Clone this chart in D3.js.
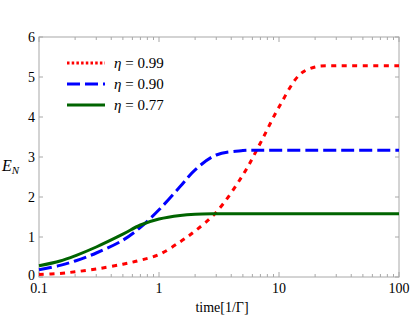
<!DOCTYPE html>
<html>
<head>
<meta charset="utf-8">
<script src="https://cdn.jsdelivr.net/npm/d3@7"></script>
<style>
  body { margin: 0; background: #fff; }
  svg text { font-family: "Liberation Serif", "Times New Roman", serif !important; }
</style>
</head>
<body>
<script>
// Data (time in units of 1/Gamma)
const times = [0.1, 0.15, 0.2, 0.3, 0.5, 0.7, 1, 1.5, 2, 3, 5, 7, 10, 15, 20, 30, 50, 100];
const eta099 = [0.06, 0.09, 0.13, 0.2, 0.32, 0.42, 0.56, 0.88, 1.15, 1.62, 2.55, 3.35, 4.25, 5.07, 5.25, 5.28, 5.28, 5.28];
const eta090 = [0.18, 0.29, 0.4, 0.6, 0.92, 1.24, 1.68, 2.26, 2.68, 3.05, 3.16, 3.17, 3.17, 3.17, 3.17, 3.17, 3.17, 3.17];
const eta077 = [0.28, 0.4, 0.53, 0.75, 1.07, 1.3, 1.45, 1.54, 1.57, 1.58, 1.58, 1.58, 1.58, 1.58, 1.58, 1.58, 1.58, 1.58];
const seriesNames = ["0.99", "0.90", "0.77"];
const xTicks = [0.1, 1, 10, 100];
const yTicks = [0, 1, 2, 3, 4, 5, 6];

const series = [
  { name: seriesNames[0], values: eta099, color: "#ff0000", dash: "5,5.5" },
  { name: seriesNames[1], values: eta090, color: "#0000ff", dash: "13,5" },
  { name: seriesNames[2], values: eta077, color: "#006400", dash: null }
];

const W = 415, H = 327;
const margin = { top: 37, right: 16, bottom: 50, left: 39 };
const width = W - margin.left - margin.right,
    height = H - margin.top - margin.bottom;
const serif = "Liberation Serif";

const svg = d3.select("body")
  .append("svg")
    .attr("width", W)
    .attr("height", H)
  .append("g")
    .attr("transform", `translate(${margin.left},${margin.top})`);

const x = d3.scaleLog().domain([0.1, 100]).range([0, width]);
const y = d3.scaleLinear().domain([0, 6]).range([height, 0]);

// minor ticks for log axis
const minor = [];
[0.1, 1, 10].forEach(d => { for (let k = 2; k <= 9; k++) minor.push(d * k); });

const frame = "#a8a8a8";

// frame
svg.append("rect")
  .attr("width", width).attr("height", height)
  .attr("fill", "none").attr("stroke", frame).attr("stroke-width", 1);

// bottom axis ticks (inward)
svg.append("g").selectAll("line").data(xTicks).join("line")
  .attr("x1", d => x(d)).attr("x2", d => x(d))
  .attr("y1", height).attr("y2", height - 5)
  .attr("stroke", frame);
svg.append("g").selectAll("line").data(minor).join("line")
  .attr("x1", d => x(d)).attr("x2", d => x(d))
  .attr("y1", height).attr("y2", height - 3)
  .attr("stroke", frame);
// top ticks
svg.append("g").selectAll("line").data(xTicks).join("line")
  .attr("x1", d => x(d)).attr("x2", d => x(d))
  .attr("y1", 0).attr("y2", 5)
  .attr("stroke", frame);
svg.append("g").selectAll("line").data(minor).join("line")
  .attr("x1", d => x(d)).attr("x2", d => x(d))
  .attr("y1", 0).attr("y2", 3)
  .attr("stroke", frame);
// left / right ticks
svg.append("g").selectAll("line").data(yTicks).join("line")
  .attr("x1", 0).attr("x2", 4)
  .attr("y1", d => y(d)).attr("y2", d => y(d))
  .attr("stroke", frame);
svg.append("g").selectAll("line").data(yTicks).join("line")
  .attr("x1", width).attr("x2", width - 4)
  .attr("y1", d => y(d)).attr("y2", d => y(d))
  .attr("stroke", frame);

// tick labels
svg.append("g").selectAll("text").data(xTicks).join("text")
  .attr("x", d => x(d)).attr("y", height + 16)
  .attr("text-anchor", "middle")
  .style("font-family", serif)
  .attr("font-size", 14)
  .text(d => d);
svg.append("g").selectAll("text").data(yTicks).join("text")
  .attr("x", -4).attr("y", d => y(d) + (d === 0 ? 3 : 5))
  .attr("text-anchor", "end")
  .style("font-family", serif)
  .attr("font-size", 14)
  .text(d => d);

// axis labels
svg.append("text")
  .attr("x", x(Math.sqrt(10)) + 3).attr("y", height + 35)
  .attr("text-anchor", "middle")
  .style("font-family", serif)
  .attr("font-size", 14)
  .text("time[1/Γ]");
const yl = svg.append("text")
  .attr("x", -37).attr("y", 134)
  .style("font-family", serif)
  .attr("font-size", 16);
yl.append("tspan").attr("font-style", "italic").text("E");
yl.append("tspan").attr("font-style", "italic").attr("font-size", 11).attr("dy", 3).text("N");

// curves
const line = d3.line()
  .x((d, i) => x(times[i]))
  .y(d => y(d))
  .curve(d3.curveCatmullRom.alpha(0.5));

series.forEach(s => {
  svg.append("path")
    .datum(s.values)
    .attr("fill", "none")
    .attr("stroke", s.color)
    .attr("stroke-width", 3)
    .attr("stroke-dasharray", s.dash)
    .attr("d", line);
});

// legend
const leg = svg.append("g").attr("transform", "translate(28,26)");
series.forEach((s, i) => {
  const g = leg.append("g").attr("transform", `translate(0,${i * 21})`);
  g.append("line")
    .attr("x1", 0).attr("x2", 38)
    .attr("stroke", s.color).attr("stroke-width", 3)
    .attr("stroke-dasharray", i === 0 ? "2.5,2.2" : s.dash);
  const t = g.append("text").attr("x", 47).attr("y", 5)
    .style("font-family", serif).attr("font-size", 15);
  t.append("tspan").attr("font-style", "italic").text("η");
  t.append("tspan").text(" = " + s.name);
});
</script>
</body>
</html>
